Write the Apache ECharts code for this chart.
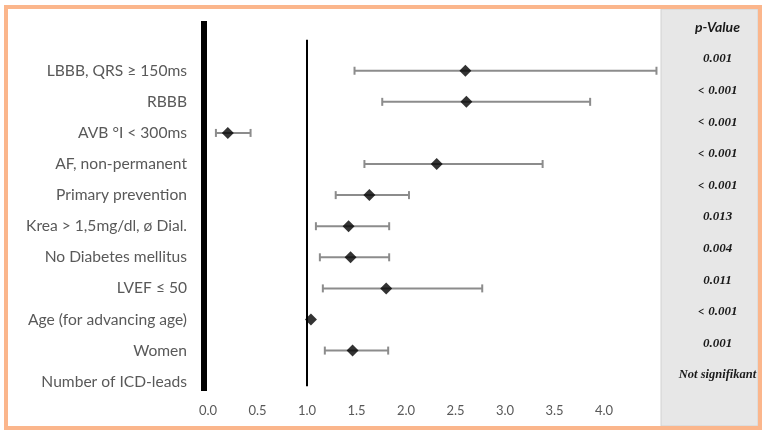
<!DOCTYPE html>
<html>
<head>
<meta charset="utf-8">
<script src="https://cdn.jsdelivr.net/npm/echarts@6/dist/echarts.min.js"></script>
<style>
  html, body { margin: 0; padding: 0; background: #fff; }
  #chart { width: 766px; height: 433px; }
</style>
</head>
<body>
<div id="chart"></div>
<script>
// rows, top to bottom
const categories = [
  'LBBB, QRS \u2265 150ms',
  'RBBB',
  'AVB \u00b0I < 300ms',
  'AF, non-permanent',
  'Primary prevention',
  'Krea > 1,5mg/dl, \u00f8 Dial.',
  'No Diabetes mellitus',
  'LVEF \u2264 50',
  'Age (for advancing age)',
  'Women',
  'Number of ICD-leads'
]
const oddsRatio = [2.60, 2.61, 0.20, 2.31, 1.63, 1.42, 1.44, 1.80, 1.04, 1.46, null]
const ciLow = [1.48, 1.76, 0.08, 1.58, 1.29, 1.09, 1.13, 1.16, null, 1.18, null]
const ciHigh = [4.53, 3.86, 0.43, 3.38, 2.03, 1.83, 1.83, 2.77, null, 1.82, null]
const pValues = ['0.001', '< 0.001', '< 0.001', '< 0.001', '< 0.001', '0.013', '0.004', '0.011', '< 0.001', '0.001', 'Not signifikant']
const xTicks = [0, 0.5, 1, 1.5, 2, 2.5, 3, 3.5, 4]
const refLineX = 1
const refLineY = [-1, 10.15]

const chart = echarts.init(document.getElementById('chart'), null, { renderer: 'canvas' })

const rowIdx = categories.map((_, i) => i)
const points = oddsRatio.map((v, i) => (v == null ? null : [v, i])).filter(Boolean)
const bars = ciLow.map((lo, i) => (lo == null ? null : [i, lo, ciHigh[i]])).filter(Boolean)

function pLabel(i) {
  if (i === -1) return '{h|p-Value}'
  const s = pValues[i]
  if (s == null) return ''
  if (s.startsWith('< ')) return '{lt|< }{v|' + s.slice(2) + '}'
  if (s.length > 8) return '{n|' + s + '}'
  return '{v|' + s + '}'
}

chart.setOption({
  animation: false,
  backgroundColor: '#fff',
  graphic: [
    { type: 'rect', shape: { x: 661, y: 9, width: 97, height: 417 }, style: { fill: '#e7e7e7', stroke: '#d2d2d2', lineWidth: 1 }, z: -1 },
    { type: 'rect', shape: { x: 6, y: 7, width: 754, height: 421 }, style: { fill: 'none', stroke: '#fbb68c', lineWidth: 4 }, z: 10 }
  ],
  grid: { left: 208, top: 21, width: 445.5, height: 370, containLabel: false },
  xAxis: {
    type: 'value',
    min: 0,
    max: 4.5,
    interval: 0.5,
    axisLine: { show: false },
    axisTick: { show: false },
    splitLine: { show: false },
    axisLabel: {
      customValues: xTicks,
      formatter: v => v.toFixed(1),
      color: '#595959',
      fontFamily: 'Lato',
      fontSize: 13,
      margin: 13
    }
  },
  yAxis: [{
    type: 'value',
    inverse: true,
    min: -1.6,
    max: 10.3,
    offset: 4,
    axisLine: { show: true, onZero: false, lineStyle: { color: '#000', width: 6, cap: 'butt' } },
    axisTick: { show: false },
    splitLine: { show: false },
    axisLabel: {
      customValues: rowIdx,
      formatter: v => categories[v] || '',
      color: '#595959',
      fontFamily: 'Lato',
      fontSize: 15.6,
      margin: 17
    }
  }, {
    type: 'value',
    inverse: true,
    position: 'right',
    min: -1.2,
    max: 10.5,
    axisLine: { show: false },
    axisTick: { show: false },
    splitLine: { show: false },
    axisLabel: {
      customValues: [-1].concat(rowIdx),
      formatter: v => pLabel(v),
      align: 'center',
      margin: 64,
      rich: {
        h: { fontFamily: 'Lato', fontWeight: 'bold', fontStyle: 'italic', fontSize: 14, color: '#1a1a1a' },
        lt: { fontFamily: 'Lato', fontSize: 13, color: '#1a1a1a' },
        v: { fontFamily: 'Liberation Serif', fontWeight: 'bold', fontStyle: 'italic', fontSize: 13, color: '#1a1a1a' },
        n: { fontFamily: 'Liberation Serif', fontWeight: 'bold', fontStyle: 'italic', fontSize: 12.5, color: '#1a1a1a' }
      }
    }
  }],
  series: [
    {
      type: 'line',
      data: refLineY.map(y => [refLineX, y]),
      symbol: 'none',
      lineStyle: { color: '#000', width: 2 },
      silent: true,
      z: 1
    },
    {
      type: 'custom',
      data: bars,
      encode: { x: [1, 2], y: 0 },
      renderItem: (params, api) => {
        const y = api.value(0)
        const a = api.coord([api.value(1), y])
        const b = api.coord([api.value(2), y])
        const cap = 4
        const st = { stroke: '#8c8c8c', lineWidth: 2 }
        return {
          type: 'group',
          children: [
            { type: 'line', shape: { x1: a[0], y1: a[1], x2: b[0], y2: b[1] }, style: st },
            { type: 'line', shape: { x1: a[0], y1: a[1] - cap, x2: a[0], y2: a[1] + cap }, style: st },
            { type: 'line', shape: { x1: b[0], y1: b[1] - cap, x2: b[0], y2: b[1] + cap }, style: st }
          ]
        }
      },
      z: 2
    },
    {
      type: 'scatter',
      data: points,
      symbol: 'diamond',
      symbolSize: [12, 12],
      itemStyle: { color: '#000' },
      z: 3
    }
  ]
})
</script>
</body>
</html>
